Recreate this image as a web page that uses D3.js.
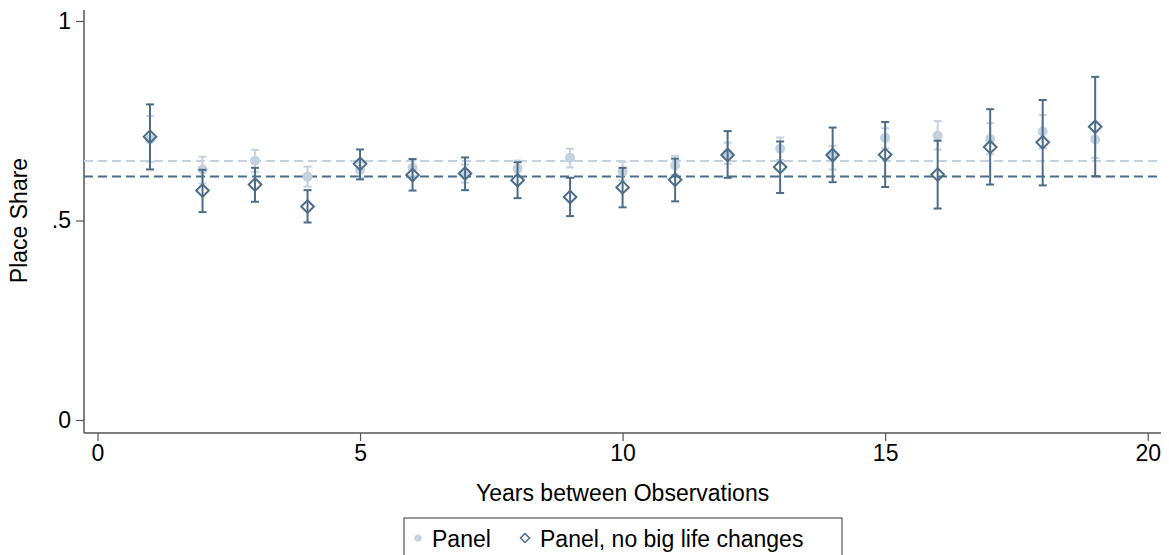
<!DOCTYPE html>
<html>
<head>
<meta charset="utf-8">
<script src="https://cdn.jsdelivr.net/npm/d3@7"></script>
<style>
    body { margin: 0; background: #fff; }
    text { font-family: "Liberation Sans", Arial, Helvetica, sans-serif; fill: #000; }
</style>
</head>
<body>
<svg id="chart"></svg>
<script>
// Years between observations
var years = [1, 2, 3, 4, 5, 6, 7, 8, 9, 10, 11, 12, 13, 14, 15, 16, 17, 18, 19];

// "Panel" series (light circles)
var panelVal = [0.703, 0.628, 0.650, 0.610, 0.627, 0.632, 0.618, 0.630, 0.657, 0.622, 0.638, 0.668, 0.680, 0.660, 0.707, 0.713, 0.704, 0.723, 0.703];
var panelLo  = [0.647, 0.593, 0.622, 0.585, 0.607, 0.612, 0.595, 0.613, 0.633, 0.600, 0.615, 0.642, 0.652, 0.628, 0.681, 0.678, 0.666, 0.681, 0.657];
var panelHi  = [0.762, 0.660, 0.677, 0.635, 0.645, 0.652, 0.640, 0.650, 0.680, 0.647, 0.662, 0.695, 0.708, 0.687, 0.731, 0.749, 0.744, 0.764, 0.745];

// "Panel, no big life changes" series (dark diamonds)
var stableVal = [0.710, 0.575, 0.590, 0.535, 0.642, 0.614, 0.618, 0.601, 0.559, 0.583, 0.602, 0.664, 0.634, 0.664, 0.665, 0.615, 0.684, 0.696, 0.735];
var stableLo  = [0.628, 0.521, 0.547, 0.495, 0.603, 0.575, 0.576, 0.556, 0.511, 0.533, 0.548, 0.607, 0.569, 0.596, 0.584, 0.530, 0.590, 0.588, 0.611];
var stableHi  = [0.791, 0.627, 0.632, 0.576, 0.678, 0.654, 0.658, 0.646, 0.607, 0.632, 0.655, 0.724, 0.698, 0.733, 0.747, 0.700, 0.779, 0.802, 0.860];

// overall averages (dashed lines)
var panelMean = 0.649;
var stableMean = 0.610;

var xTicks = [0, 5, 10, 15, 20];
var yTicks = [0, 0.5, 1];
var yTickLabels = ["0", ".5", "1"];

var legendLabels = ["Panel", "Panel, no big life changes"];

var lightColor = "#c4d2df";
var darkColor = "#4b6d89";
var axisColor = "#555";
var fontSize = "23px";

var svgWidth = 1169;
var svgHeight = 555;

var svg = d3.select("#chart")
    .attr("width", svgWidth)
    .attr("height", svgHeight);

// Scales
var xScale = d3.scaleLinear().domain([0, 20]).range([97.5, 1147.7]);
var yScale = d3.scaleLinear().domain([0, 1]).range([420, 21]);

var plotLeft = 84, plotRight = 1161, plotTop = 10, plotBottom = 433;

// Axis lines
svg.append("line")
    .attr("x1", plotLeft).attr("y1", plotTop)
    .attr("x2", plotLeft).attr("y2", plotBottom)
    .style("stroke", axisColor).style("stroke-width", 1.5);

svg.append("line")
    .attr("x1", plotLeft).attr("y1", plotBottom)
    .attr("x2", plotRight).attr("y2", plotBottom)
    .style("stroke", axisColor).style("stroke-width", 1.5);

// y ticks
var yAxis = d3.axisLeft(yScale)
    .tickValues(yTicks)
    .tickSize(8)
    .tickPadding(5)
    .tickFormat(function (d, i) { return yTickLabels[i]; });

var yG = svg.append("g")
    .attr("transform", "translate(" + plotLeft + ",0)")
    .call(yAxis);
yG.select(".domain").remove();
yG.selectAll("line").style("stroke", axisColor).style("stroke-width", 1.2);
yG.selectAll("text").style("font-size", fontSize).style("fill", "#000");

// x ticks
var xAxis = d3.axisBottom(xScale)
    .tickValues(xTicks)
    .tickSize(8)
    .tickPadding(4);

var xG = svg.append("g")
    .attr("transform", "translate(0," + plotBottom + ")")
    .call(xAxis);
xG.select(".domain").remove();
xG.selectAll("line").style("stroke", axisColor).style("stroke-width", 1.2);
xG.selectAll("text").style("font-size", fontSize).style("fill", "#000");

// Axis titles
svg.append("text")
    .attr("x", (xScale(0) + xScale(20)) / 2)
    .attr("y", 501)
    .attr("text-anchor", "middle")
    .style("font-size", fontSize)
    .text("Years between Observations");

svg.append("text")
    .attr("transform", "rotate(-90)")
    .attr("x", -yScale(0.5))
    .attr("y", 27)
    .attr("text-anchor", "middle")
    .style("font-size", fontSize)
    .text("Place Share");

// Mean lines
svg.append("line")
    .attr("x1", plotLeft).attr("x2", plotRight)
    .attr("y1", yScale(panelMean)).attr("y2", yScale(panelMean))
    .style("stroke", lightColor).style("stroke-width", 2)
    .style("stroke-dasharray", "9,5");

svg.append("line")
    .attr("x1", plotLeft).attr("x2", plotRight)
    .attr("y1", yScale(stableMean)).attr("y2", yScale(stableMean))
    .style("stroke", darkColor).style("stroke-width", 2)
    .style("stroke-dasharray", "9,5");

// Error bars helper
function errorBars(cls, lo, hi, color, width) {
    var g = svg.append("g").attr("class", cls);
    g.selectAll("line.v")
        .data(years)
        .enter()
        .append("line")
        .attr("class", "v")
        .attr("x1", function (d) { return xScale(d); })
        .attr("x2", function (d) { return xScale(d); })
        .attr("y1", function (d, i) { return yScale(lo[i]); })
        .attr("y2", function (d, i) { return yScale(hi[i]); })
        .style("stroke", color).style("stroke-width", width);
    [lo, hi].forEach(function (arr, k) {
        g.selectAll("line.cap" + k)
            .data(years)
            .enter()
            .append("line")
            .attr("class", "cap" + k)
            .attr("x1", function (d) { return xScale(d) - 4; })
            .attr("x2", function (d) { return xScale(d) + 4; })
            .attr("y1", function (d, i) { return yScale(arr[i]); })
            .attr("y2", function (d, i) { return yScale(arr[i]); })
            .style("stroke", color).style("stroke-width", width);
    });
}

// Panel: light circles
errorBars("panel-ci", panelLo, panelHi, lightColor, 2);
svg.selectAll(".panel-dot")
    .data(years)
    .enter()
    .append("circle")
    .attr("class", "panel-dot")
    .attr("cx", function (d) { return xScale(d); })
    .attr("cy", function (d, i) { return yScale(panelVal[i]); })
    .attr("r", 5)
    .style("fill", lightColor);

// Panel, no big life changes: dark hollow diamonds
errorBars("stable-ci", stableLo, stableHi, darkColor, 2);
svg.selectAll(".stable-dia")
    .data(years)
    .enter()
    .append("path")
    .attr("class", "stable-dia")
    .attr("transform", function (d, i) { return "translate(" + xScale(d) + "," + yScale(stableVal[i]) + ")"; })
    .attr("d", "M0,-6.3L6.3,0L0,6.3L-6.3,0Z")
    .style("fill", "none")
    .style("stroke", darkColor)
    .style("stroke-width", 2);

// Legend
var legend = svg.append("g");
legend.append("rect")
    .attr("x", 404).attr("y", 518)
    .attr("width", 438).attr("height", 60)
    .style("fill", "#fff")
    .style("stroke", axisColor).style("stroke-width", 1.2);

legend.append("circle")
    .attr("cx", 418).attr("cy", 538)
    .attr("r", 3.6)
    .style("fill", lightColor);
legend.append("text")
    .attr("x", 432).attr("y", 547)
    .style("font-size", fontSize)
    .text(legendLabels[0]);

legend.append("path")
    .attr("transform", "translate(525,538)")
    .attr("d", "M0,-4.5L4.5,0L0,4.5L-4.5,0Z")
    .style("fill", "none")
    .style("stroke", darkColor)
    .style("stroke-width", 1.5);
legend.append("text")
    .attr("x", 540).attr("y", 547)
    .style("font-size", fontSize)
    .text(legendLabels[1]);
</script>
</body>
</html>
